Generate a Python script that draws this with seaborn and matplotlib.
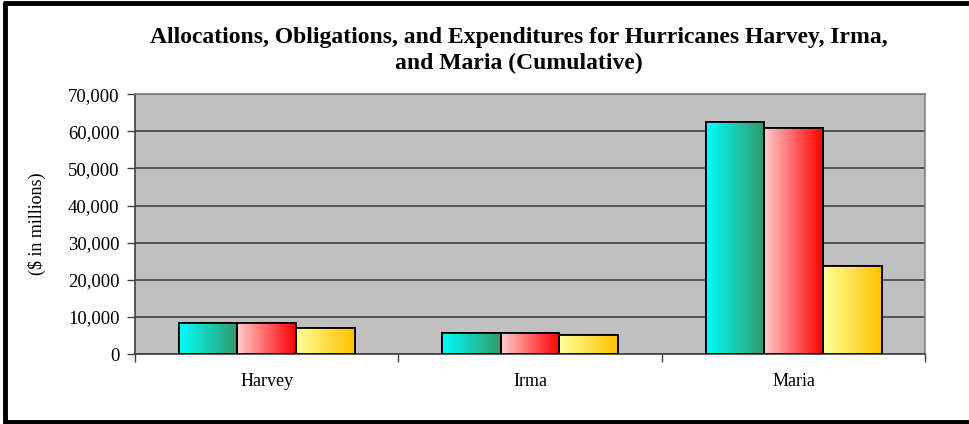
import matplotlib.pyplot as plt
import numpy as np
import pandas as pd
import seaborn as sns
from matplotlib.colors import LinearSegmentedColormap
from matplotlib.patches import Rectangle

# Data ($ in millions)
hurricanes = ['Harvey', 'Irma', 'Maria']
series = ['Allocations', 'Obligations', 'Expenditures']
allocations = [8300, 5700, 62400]
obligations = [8300, 5700, 61000]
expenditures = [7100, 5200, 23600]

# gradient (left -> right) for each series
gradients = [('#00ffff', '#339966'), ('#ffcccc', '#ff0000'), ('#ffff99', '#ffc000')]

df = pd.DataFrame({
    'Hurricane': hurricanes * 3,
    'Series': [s for s in series for _ in hurricanes],
    'Value': allocations + obligations + expenditures,
})

sns.set_style('white')
plt.rcParams['font.family'] = ['Liberation Serif', 'DejaVu Serif']
plt.rcParams['text.color'] = 'black'
plt.rcParams['axes.labelcolor'] = 'black'
plt.rcParams['xtick.labelcolor'] = 'black'
plt.rcParams['ytick.labelcolor'] = 'black'

fig = plt.figure(figsize=(9.7, 4.24), dpi=100)
ax = fig.add_axes([0.139, 0.165, 0.815, 0.613])

sns.barplot(data=df, x='Hurricane', y='Value', hue='Series', ax=ax,
            width=0.668, palette=['#00ffff', '#ffcccc', '#ffff99'],
            edgecolor='black', linewidth=1.3, legend=False, zorder=3)

ax.set_facecolor('#c0c0c0')
ax.set_yticks(range(0, 70001, 10000))
ax.yaxis.set_major_formatter(plt.FuncFormatter(lambda v, p: f'{int(v):,}'))
ax.grid(axis='y', color='#404040', linewidth=1.2, zorder=1)
ax.set_axisbelow(True)

# gradient fill on every bar
for i, cont in enumerate(ax.containers):
    cmap = LinearSegmentedColormap.from_list(f'g{i}', gradients[i])
    grad = np.linspace(0, 1, 256).reshape(1, -1)
    for bar in cont:
        x0, y0 = bar.get_x(), bar.get_y()
        w, h = bar.get_width(), bar.get_height()
        im = ax.imshow(grad, cmap=cmap, aspect='auto', extent=(x0, x0 + w, y0, y0 + h),
                       zorder=3.5, interpolation='bicubic')
        im.set_clip_path(bar)
        ax.add_patch(Rectangle((x0, y0), w, h, fill=False, edgecolor='black',
                               linewidth=1.3, zorder=4))
ax.set_xlim(-0.5, 2.5)
ax.set_ylim(0, 70000)

for side in ['top', 'right']:
    ax.spines[side].set_color('#808080')
    ax.spines[side].set_linewidth(1.2)
for side in ['left', 'bottom']:
    ax.spines[side].set_color('#404040')
    ax.spines[side].set_linewidth(1.2)

ax.tick_params(axis='y', length=6, width=1, color='#404040', labelsize=13.5, direction='out', left=True, pad=5)
ax.tick_params(axis='x', length=6, width=1, color='#404040', labelsize=13, direction='out', bottom=True)
ax.set_xticks([-0.5, 0.5, 1.5, 2.5], minor=True)
ax.tick_params(axis='x', which='minor', length=6, width=1, color='#404040', bottom=True)
ax.tick_params(axis='x', which='major', length=0, pad=14)
ax.set_xlabel('')
ax.set_ylabel('($ in millions)', fontsize=13, labelpad=16)

fig.text(0.535, 0.88, 'Allocations, Obligations, and Expenditures for Hurricanes Harvey, Irma,\nand Maria (Cumulative)',
         ha='center', va='center', fontsize=17, fontweight='bold', linespacing=1.3)

# chart frame (no right edge, as in the source)
for coords in [([0.005, 0.005], [0.005, 0.993]), ([0.005, 1.0], [0.993, 0.993]), ([0.005, 1.0], [0.005, 0.005])]:
    fig.add_artist(plt.Line2D(coords[0], coords[1], color='black', linewidth=3.5))

fig.savefig('out.png', dpi=100)
